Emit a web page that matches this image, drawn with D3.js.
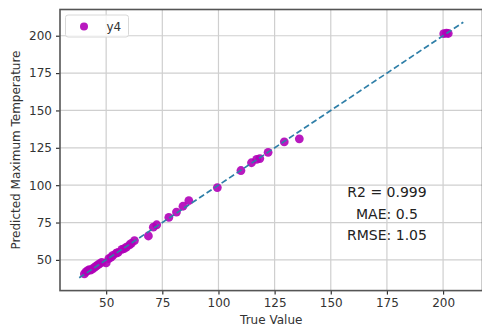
<!DOCTYPE html>
<html>
<head>
  <script src="https://d3js.org/d3.v7.min.js"></script>
  <style>
    body { margin: 0; background: #fff; }
    text { font-family: "DejaVu Sans", sans-serif; }
  </style>
</head>
<body>
  <div id="chart"></div>
  <script type="text/javascript">
    var trueVals = [40.3, 41, 41.8, 42.5, 43, 44, 44.8, 45.5, 46.3, 47, 48, 50, 51.2, 52.2, 53, 54.5, 55.3, 57, 58, 59, 60.4, 61.2, 62.6, 68.8, 71, 72.5, 77.9, 81.3, 84.2, 86.8, 99.5, 110, 114.7, 117, 118.4, 122.1, 129.3, 136, 200.3, 201.5, 202.3];
    var predVals = [40.6, 42, 42.8, 43.5, 43.2, 44, 45, 45.8, 46.6, 47.3, 48.3, 48, 50.8, 51.8, 53, 54.5, 55, 57, 57.5, 58.5, 60, 61, 62.9, 66, 71.9, 73.5, 78.4, 82, 85.9, 89.6, 98.4, 109.8, 115, 117.3, 117.8, 122, 129, 131, 201.4, 201.8, 201.5];
    var lineVals = [38, 209];
    var xTicks = [50, 75, 100, 125, 150, 175, 200];
    var yTicks = [50, 75, 100, 125, 150, 175, 200];
    var statLines = ["R2 = 0.999", "MAE: 0.5", "RMSE: 1.05"];
    var seriesName = "y4";

    var width = 482, height = 328;
    var m = { left: 60, right: 482.5, top: 9.5, bottom: 290.6 };

    var svg = d3.select("#chart").append("svg")
      .attr("width", width)
      .attr("height", height);

    var x = d3.scaleLinear().domain([29.45, 217.55]).range([m.left, m.right]);
    var y = d3.scaleLinear().domain([29.45, 217.55]).range([m.bottom, m.top]);

    // grid
    svg.append("g").selectAll("line").data(xTicks).enter().append("line")
      .attr("x1", function (d) { return x(d); }).attr("x2", function (d) { return x(d); })
      .attr("y1", m.top).attr("y2", m.bottom)
      .attr("stroke", "#cfcfcf").attr("stroke-width", 1.2);
    svg.append("g").selectAll("line").data(yTicks).enter().append("line")
      .attr("y1", function (d) { return y(d); }).attr("y2", function (d) { return y(d); })
      .attr("x1", m.left).attr("x2", m.right)
      .attr("stroke", "#cfcfcf").attr("stroke-width", 1.2);

    // points
    var pts = trueVals.map(function (d, i) { return [d, predVals[i]]; });
    svg.append("g").selectAll("circle").data(pts).enter().append("circle")
      .attr("cx", function (d) { return x(d[0]); })
      .attr("cy", function (d) { return y(d[1]); })
      .attr("r", 4.4)
      .attr("fill", "#b000b8")
      .attr("fill-opacity", 0.9);

    // identity line
    svg.append("line")
      .attr("x1", x(lineVals[0])).attr("y1", y(lineVals[0]))
      .attr("x2", x(lineVals[1])).attr("y2", y(lineVals[1]))
      .attr("stroke", "#2f7fa8")
      .attr("stroke-width", 1.7)
      .attr("stroke-dasharray", "6,3");

    // axes
    var xAxis = svg.append("g")
      .attr("transform", "translate(0," + m.bottom + ")")
      .call(d3.axisBottom(x).tickValues(xTicks).tickSize(4).tickPadding(4));
    var yAxis = svg.append("g")
      .attr("transform", "translate(" + m.left + ",0)")
      .call(d3.axisLeft(y).tickValues(yTicks).tickSize(4).tickPadding(4));
    [xAxis, yAxis].forEach(function (a) {
      a.select(".domain").remove();
      a.selectAll(".tick line").attr("stroke", "#333").attr("stroke-width", 1.2);
      a.selectAll(".tick text").attr("fill", "#333").style("font-size", "12px")
        .style("font-family", "DejaVu Sans, sans-serif");
    });

    // spines
    svg.append("rect")
      .attr("x", m.left).attr("y", m.top)
      .attr("width", m.right - m.left).attr("height", m.bottom - m.top)
      .attr("fill", "none").attr("stroke", "#555").attr("stroke-width", 1.6);

    // labels
    svg.append("text")
      .attr("x", (m.left + m.right) / 2).attr("y", 324)
      .attr("text-anchor", "middle").attr("fill", "#333")
      .style("font-size", "12px").text("True Value");
    svg.append("text")
      .attr("transform", "translate(20," + (m.top + m.bottom) / 2 + ") rotate(-90)")
      .attr("text-anchor", "middle").attr("fill", "#333")
      .style("font-size", "12px").text("Predicted Maximum Temperature");

    // stats
    svg.append("g").selectAll("text").data(statLines).enter().append("text")
      .attr("x", 387)
      .attr("y", function (d, i) { return 197 + i * 21.7; })
      .attr("text-anchor", "middle").attr("fill", "#222")
      .style("font-size", "14px")
      .text(function (d) { return d; });

    // legend
    var lg = svg.append("g");
    lg.append("rect")
      .attr("x", 65.5).attr("y", 15).attr("width", 63).attr("height", 22)
      .attr("rx", 2.5)
      .attr("fill", "#fff").attr("fill-opacity", 0.8)
      .attr("stroke", "#d8d8d8").attr("stroke-width", 1);
    lg.append("circle")
      .attr("cx", 84).attr("cy", 26.5).attr("r", 4)
      .attr("fill", "#b000b8").attr("fill-opacity", 0.9);
    lg.append("text")
      .attr("x", 106.5).attr("y", 31)
      .attr("fill", "#333").style("font-size", "12px").text(seriesName);
  </script>
</body>
</html>
